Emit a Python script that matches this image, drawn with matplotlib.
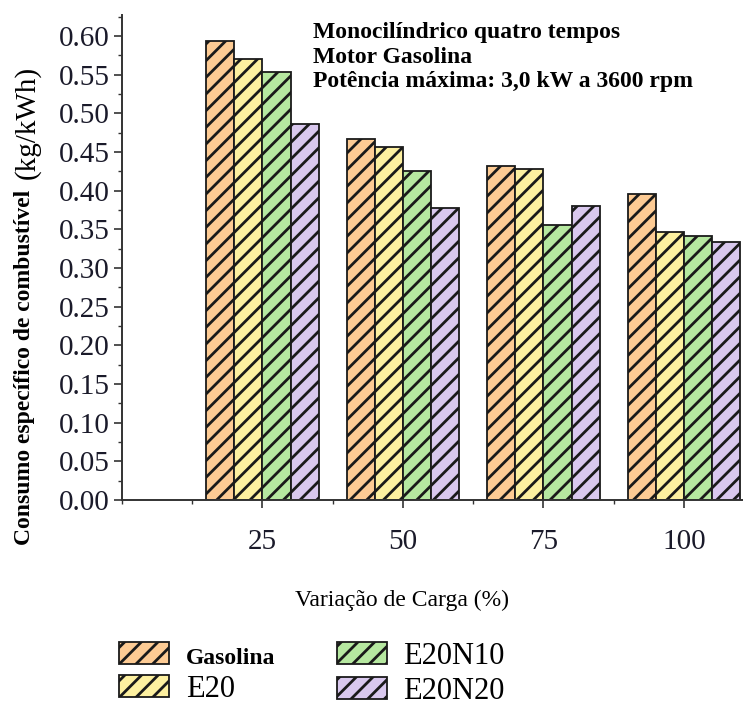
import matplotlib.pyplot as plt
import numpy as np
from matplotlib.ticker import MultipleLocator, FormatStrFormatter

# data
loads = [25, 50, 75, 100]
fuels = ['Gasolina', 'E20', 'E20N10', 'E20N20']
gasolina = [0.594, 0.467, 0.432, 0.395]
e20 = [0.570, 0.456, 0.428, 0.347]
e20n10 = [0.553, 0.425, 0.356, 0.341]
e20n20 = [0.486, 0.378, 0.380, 0.334]
colors = ['#FDCB94', '#FDF0A0', '#B6E8A0', '#D9C8EE']

plt.rcParams['font.family'] = ['Liberation Serif', 'DejaVu Serif']
plt.rcParams['hatch.linewidth'] = 2.0

fig = plt.figure(figsize=(7.43, 7.06), dpi=100)
ax = fig.add_axes([122 / 743, 206 / 706, 1 - 122 / 743, (500 - 15) / 706])

width = 5
x = np.array(loads, dtype=float)
series = [gasolina, e20, e20n10, e20n20]
bars = []
for i, vals in enumerate(series):
    b = ax.bar(x + (i - 1.5) * width, vals, width, color=colors[i],
               edgecolor='#1a1a1a', linewidth=1.3, hatch='//', label=fuels[i])
    bars.append(b)

ax.set_xlim(0, 110.5)
ax.set_ylim(0, 0.627)
ax.set_xticks(loads)
ax.xaxis.set_minor_locator(MultipleLocator(12.5))
ax.yaxis.set_major_locator(MultipleLocator(0.05))
ax.yaxis.set_minor_locator(MultipleLocator(0.025))
ax.yaxis.set_major_formatter(FormatStrFormatter('%.2f'))

for s in ['top', 'right']:
    ax.spines[s].set_visible(False)
for s in ['left', 'bottom']:
    ax.spines[s].set_linewidth(1.4)
    ax.spines[s].set_color('#333333')

ax.tick_params(axis='both', which='major', direction='out', length=6, width=1.2,
               color='#333333', labelsize=21, labelcolor='#1a1a2a')
ax.tick_params(axis='both', which='minor', direction='out', length=3, width=1.0,
               color='#333333')
ax.tick_params(axis='x', which='major', pad=15)
ax.tick_params(axis='y', which='major', pad=3)

# y label: bold part + unit
fig.text(25 / 743, 1 - 367 / 706, 'Consumo específico de combustível',
         rotation=90, ha='center', va='center', fontsize=17, fontweight='bold')
fig.text(27 / 743, 1 - 122 / 706, '(kg/kWh)', rotation=90, ha='center',
         va='center', fontsize=21)

fig.text(402 / 743, 1 - 600 / 706, 'Variação de Carga (%)', ha='center',
         va='center', fontsize=17)

fig.text(313 / 743, 1 - 22 / 706, 'Monocilíndrico quatro tempos\nMotor Gasolina\n'
         'Potência máxima: 3,0 kW a 3600 rpm', ha='left', va='top',
         fontsize=17, fontweight='bold', linespacing=1.22)

leg = fig.legend(handles=bars, labels=fuels, ncol=2, loc='center',
                 bbox_to_anchor=(312 / 743, 1 - 674 / 706), frameon=False,
                 fontsize=22, handlelength=1.64, handleheight=0.72,
                 columnspacing=2.0, labelspacing=0.2, handletextpad=0.55)
leg.get_texts()[0].set_fontweight('bold')
leg.get_texts()[0].set_fontsize(17)

fig.savefig('out.png', dpi=100)
